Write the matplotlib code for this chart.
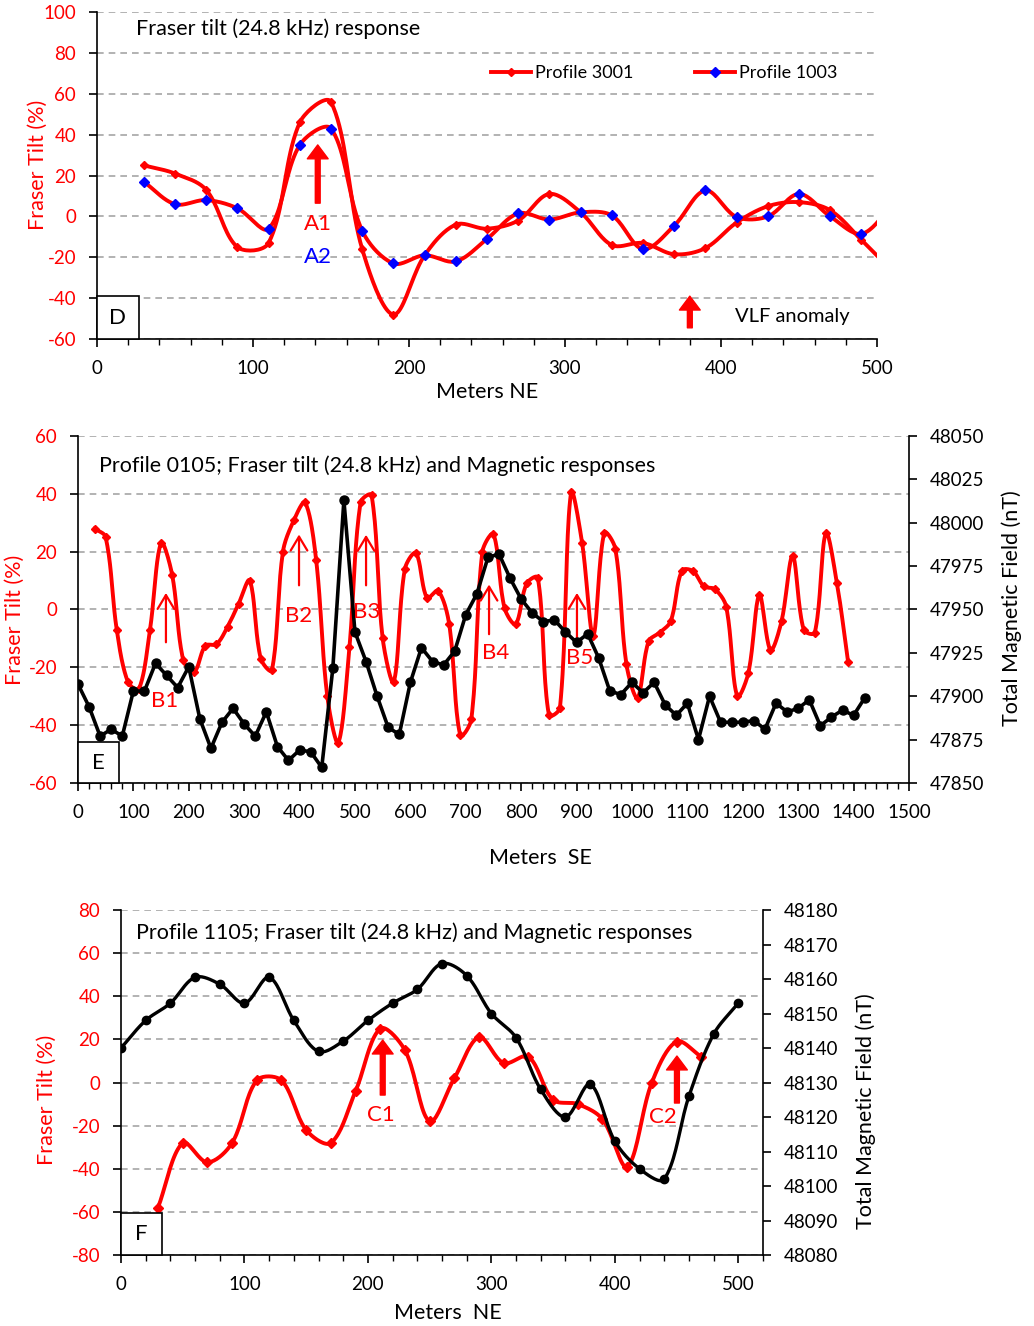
import numpy as np
import matplotlib
matplotlib.use("Agg")
from matplotlib import pyplot as plt
from matplotlib.lines import Line2D
from matplotlib.patches import Rectangle
from matplotlib.ticker import MultipleLocator

plt.rcParams['font.family'] = ['Lato', 'DejaVu Sans']
plt.rcParams['font.size'] = 13.5
plt.rcParams['axes.unicode_minus'] = False

# ---- panel D : Fraser tilt, two profiles ----
d_x = list(range(30, 511, 20))
d_3001 = [25, 21, 13, -15, -13, 46, 56, -16, -48, -19, -4, -6, -2, 11, 2, -14,
          -13, -18.5, -15.5, -3, 5, 7, 3, -11.5, -27]
d_1003 = [17, 6, 8, 4, -6, 35, 43, -7, -23, -19, -22, -11, 1.5, -1.5, 2, 0.5,
          -16, -4.5, 12.7, -0.3, 0, 11, 0, -8.5, 5.5]

# ---- panel E : profile 0105 ----
e_tilt_x = list(range(30, 1391, 20))
e_tilt = [28, 25, -7, -25, -27.5, -7, 23, 12, -17.5, -21.5, -12.5, -12, -6, 2, 10,
          -17, -21, 20, 31, 37, 17, -30, -46, -13, 37, 39.5, -10, -25, 14, 19.5,
          4, 6.5, -5, -43.5, -38, 20, 26, 0.5, -5, 9, 11, -36.5, -34, 40.5, 23,
          -9, 26.5, 21, -19, -30.5, -11, -8, -4, 13.4, 13.3, 8, 7, 1, -30, -22,
          5, -14, -4, 18.5, -7, -8, 26.4, 9, -18]
e_mag_x = list(range(0, 1421, 20))
e_mag = [47907, 47894, 47877, 47881, 47877, 47903, 47903, 47919, 47912, 47905,
         47917, 47887, 47870, 47885, 47893, 47884, 47877, 47891, 47871, 47863,
         47869, 47868, 47859, 47916, 48013, 47937, 47920, 47900, 47882, 47878,
         47908, 47928, 47920, 47918, 47926, 47947, 47959, 47980, 47982, 47968,
         47956, 47948, 47943, 47944, 47937, 47931, 47936, 47922, 47903, 47901,
         47908, 47902, 47908, 47895, 47889, 47896, 47875, 47900, 47885, 47885,
         47885, 47886, 47881, 47896, 47891, 47893, 47898, 47883, 47888, 47892,
         47889, 47899]

# ---- panel F : profile 1105 ----
f_tilt_x = list(range(30, 471, 20))
f_tilt = [-58, -28, -37, -28, 1, 1, -22, -28, -4, 25, 15, -18, 2, 21, 9, 12,
          -8, -10, -17, -39, 0, 19, 12]
f_mag_x = list(range(0, 501, 20))
f_mag = [48140, 48148, 48153, 48160.5, 48158.5, 48153, 48160.5, 48148, 48139,
         48142, 48148, 48153, 48157, 48164.5, 48161, 48150, 48143, 48128, 48120,
         48129.5, 48113, 48105, 48102, 48126, 48144, 48153]

RED = '#ff0000'
BLUE = '#0000ff'
GRID = '#a6a6a6'
FS = 15.5


def smooth(ax, x, y, n=20):
    # smoothed line through the points, built in screen space with
    # segment-length weighted bezier handles (spreadsheet style)
    p = ax.transData.transform(np.column_stack([x, y]).astype(float))
    p = np.vstack([p[0], p, p[-1]])
    t = np.linspace(0, 1, n, endpoint=False)[:, None]
    out = []
    for i in range(1, len(p) - 2):
        p0, p1, p2, p3 = p[i - 1], p[i], p[i + 1], p[i + 2]
        d01 = np.hypot(*(p1 - p0))
        d12 = np.hypot(*(p2 - p1))
        d23 = np.hypot(*(p3 - p2))
        c1 = p1 + (p2 - p0) * (d12 / max(d01 + d12, 1e-9)) / 3
        c2 = p2 - (p3 - p1) * (d12 / max(d12 + d23, 1e-9)) / 3
        out.append((1 - t) ** 3 * p1 + 3 * (1 - t) ** 2 * t * c1
                   + 3 * (1 - t) * t ** 2 * c2 + t ** 3 * p2)
    out.append(p[-2][None, :])
    out = ax.transData.inverted().transform(np.vstack(out))
    return out[:, 0], out[:, 1]


def base_style(ax, left_color=RED):
    for s in ['top', 'right']:
        ax.spines[s].set_visible(False)
    ax.spines['left'].set_linewidth(1.2)
    ax.spines['bottom'].set_linewidth(1.2)
    ax.yaxis.grid(True, linestyle=(0, (4, 3)), color=GRID, lw=1.2)
    ax.set_axisbelow(True)
    ax.tick_params(axis='y', direction='out', length=6, width=1.2, pad=9, colors='black',
                   labelcolor=left_color)
    ax.tick_params(axis='x', which='major', direction='out', length=6, width=1.2, pad=9)
    ax.tick_params(axis='x', which='minor', direction='out', length=4, width=1.0)
    ax.xaxis.set_minor_locator(MultipleLocator(20))


def panel_box(ax, letter, w, h):
    ax.add_patch(Rectangle((0, 0), w, h, transform=ax.transAxes, facecolor='white',
                           edgecolor='black', lw=1.2, zorder=10, clip_on=False))
    ax.text(w / 2, h / 2, letter, transform=ax.transAxes, ha='center', va='center',
            fontsize=16, zorder=11)


def thick_arrow(ax, x, y0, y1):
    ax.annotate('', xy=(x, y1), xytext=(x, y0),
                arrowprops=dict(facecolor=RED, edgecolor=RED, width=3.5,
                                headwidth=15, headlength=10, shrink=0), zorder=8)


def thin_arrow(ax, x, y0, y1):
    ax.annotate('', xy=(x, y1), xytext=(x, y0),
                arrowprops=dict(arrowstyle='->,head_width=0.3,head_length=0.5',
                                color=RED, lw=1.6, mutation_scale=20), zorder=8)


fig = plt.figure(figsize=(10.34, 13.26), dpi=100)

# ================= D =================
axd = fig.add_axes([0.0938, 0.7443, 0.7544, 0.2466])
base_style(axd)
axd.set_xlim(0, 500)
axd.set_ylim(-60, 100)
sx, sy = smooth(axd, d_x, d_3001)
axd.plot(sx, sy, color=RED, lw=2.8, zorder=3)
axd.plot(d_x, d_3001, ls='none', marker='D', ms=4.5, color=RED, zorder=4)
sx, sy = smooth(axd, d_x, d_1003)
axd.plot(sx, sy, color=RED, lw=2.8, zorder=3)
axd.plot(d_x, d_1003, ls='none', marker='D', ms=5, color=BLUE, zorder=4)
axd.xaxis.set_major_locator(MultipleLocator(100))
axd.yaxis.set_major_locator(MultipleLocator(20))
axd.text(0.05, 0.948, 'Fraser tilt (24.8 kHz) response', transform=axd.transAxes,
         ha='left', va='center', fontsize=FS)
axd.text(-0.0756, 0.532, 'Fraser Tilt (%)', transform=axd.transAxes, rotation=90,
         ha='center', va='center', color=RED, fontsize=FS)
axd.text(0.5, -0.162, 'Meters NE', transform=axd.transAxes, ha='center', va='center',
         fontsize=FS)
thick_arrow(axd, 141.5, 6.5, 35)
axd.text(141.7, -3.6, 'A1', color=RED, ha='center', va='center', fontsize=16)
axd.text(141.7, -19.7, 'A2', color=BLUE, ha='center', va='center', fontsize=16)
thick_arrow(axd, 380, -54.5, -39)
axd.text(409, -49, 'VLF anomaly', ha='left', va='center', fontsize=14.5)
handles = [Line2D([], [], color=RED, lw=2.8, marker='D', ms=4.5, mfc=RED, mec=RED),
           Line2D([], [], color=RED, lw=2.8, marker='D', ms=5, mfc=BLUE, mec=BLUE)]
axd.legend(handles, ['Profile 3001', 'Profile 1003'], ncol=2, frameon=False,
           loc='center left', bbox_to_anchor=(0.505, 0.814), fontsize=13,
           handlelength=2.2, handletextpad=0.25, columnspacing=3.4,
           borderpad=0, borderaxespad=0)
panel_box(axd, 'D', 0.0538, 0.1315)

# ================= E =================
axe = fig.add_axes([0.0754, 0.4095, 0.8037, 0.2617])
base_style(axe)
axe.set_xlim(0, 1500)
axe.set_ylim(-60, 60)
sx, sy = smooth(axe, e_tilt_x, e_tilt)
axe.plot(sx, sy, color=RED, lw=2.8, zorder=3)
axe.plot(e_tilt_x, e_tilt, ls='none', marker='D', ms=4.5, color=RED, zorder=4)
axe.xaxis.set_major_locator(MultipleLocator(100))
axe.yaxis.set_major_locator(MultipleLocator(20))
axe2 = axe.twinx()
axe2.set_ylim(47850, 48050)
axe2.plot(e_mag_x, e_mag, color='black', lw=2.6, marker='o', ms=6.5, zorder=3)
axe2.yaxis.set_major_locator(MultipleLocator(25))
for s in ['top', 'left', 'bottom']:
    axe2.spines[s].set_visible(False)
axe2.spines['right'].set_linewidth(1.2)
axe2.tick_params(axis='y', direction='out', length=6, width=1.2, pad=9)
axe.text(0.0253, 0.9135, 'Profile 0105; Fraser tilt (24.8 kHz) and Magnetic responses',
         transform=axe.transAxes, ha='left', va='center', fontsize=FS)
axe.text(-0.0758, 0.47, 'Fraser Tilt (%)', transform=axe.transAxes, rotation=90,
         ha='center', va='center', color=RED, fontsize=FS)
axe.text(1.124, 0.504, 'Total Magnetic Field (nT)', transform=axe.transAxes, rotation=90,
         ha='center', va='center', fontsize=FS)
axe.text(0.557, -0.216, 'Meters  SE', transform=axe.transAxes, ha='center', va='center',
         fontsize=FS)
for ax_x, y0, y1, lx, ly, lab in [(158.8, -12.3, 6.7, 157, -31.6, 'B1'),
                                  (399, 7.4, 26.9, 399, -2.2, 'B2'),
                                  (520, 7.4, 26.8, 521.6, -0.8, 'B3'),
                                  (742, -9.5, 9.6, 753, -15.2, 'B4'),
                                  (900.7, -12.3, 6.7, 906, -16.9, 'B5')]:
    thin_arrow(axe, ax_x, y0, y1)
    axe2.text(lx, 47950 + ly * 200 / 120, lab, color=RED, ha='center', va='center',
              fontsize=16, zorder=9)
panel_box(axe, 'E', 0.0493, 0.118)

# ================= F =================
axf = fig.add_axes([0.117, 0.0535, 0.6209, 0.2602])
base_style(axf)
axf.set_xlim(0, 520)
axf.set_ylim(-80, 80)
sx, sy = smooth(axf, f_tilt_x, f_tilt)
axf.plot(sx, sy, color=RED, lw=2.8, zorder=3)
axf.plot(f_tilt_x, f_tilt, ls='none', marker='D', ms=5, color=RED, zorder=4)
axf.set_xticks(range(0, 501, 100))
axf.yaxis.set_major_locator(MultipleLocator(20))
axf2 = axf.twinx()
axf2.set_ylim(48080, 48180)
sx, sy = smooth(axf2, f_mag_x, f_mag)
axf2.plot(sx, sy, color='black', lw=2.4, zorder=3)
axf2.plot(f_mag_x, f_mag, ls='none', marker='o', ms=6, color='black', zorder=4)
axf2.yaxis.set_major_locator(MultipleLocator(10))
for s in ['top', 'left', 'bottom']:
    axf2.spines[s].set_visible(False)
axf2.spines['right'].set_linewidth(1.2)
axf2.tick_params(axis='y', direction='out', length=6, width=1.2, pad=9)
axf.text(0.0234, 0.933, 'Profile 1105; Fraser tilt (24.8 kHz) and Magnetic responses',
         transform=axf.transAxes, ha='left', va='center', fontsize=FS)
axf.text(-0.115, 0.449, 'Fraser Tilt (%)', transform=axf.transAxes, rotation=90,
         ha='center', va='center', color=RED, fontsize=FS)
axf.text(1.160, 0.417, 'Total Magnetic Field (nT)', transform=axf.transAxes, rotation=90,
         ha='center', va='center', fontsize=FS)
axf.text(0.509, -0.168, 'Meters  NE', transform=axf.transAxes, ha='center', va='center',
         fontsize=FS)
for ax_x, y0, y1, lx, ly, lab in [(212, -5.8, 19.7, 210.7, -15, 'C1'),
                                  (450.3, -9.5, 12.3, 439, -16, 'C2')]:
    thick_arrow(axf, ax_x, y0, y1)
    axf2.text(lx, 48130 + ly * 100 / 160, lab, color=RED, ha='center', va='center',
              fontsize=16, zorder=9)
panel_box(axf, 'F', 0.0639, 0.1217)

fig.savefig('out.png', dpi=100)
